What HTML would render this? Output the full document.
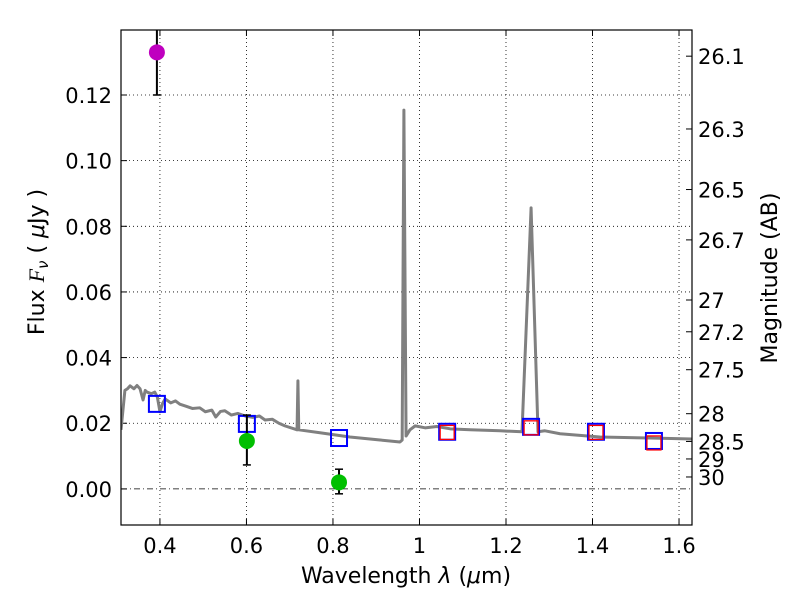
<!DOCTYPE html>
<html><head><meta charset="utf-8"><style>
body{margin:0;background:#fff}
svg text{font-family:"DejaVu Sans","Liberation Sans",sans-serif;fill:#000}
</style></head><body>
<svg id="chart" width="800" height="600" xmlns="http://www.w3.org/2000/svg"></svg>
<script>
const xTicks=[0.4,0.6,0.8,1.0,1.2,1.4,1.6];
const xTickLabels=["0.4","0.6","0.8","1","1.2","1.4","1.6"];
const yTicks=[0,0.02,0.04,0.06,0.08,0.10,0.12];
const yTickLabels=["0.00","0.02","0.04","0.06","0.08","0.10","0.12"];
const magTicks=[26.1,26.3,26.5,26.7,27,27.2,27.5,28,28.5,29,30];
const magLabels=["26.1","26.3","26.5","26.7","27","27.2","27.5","28","28.5","29","30"];
const specWave=[0.310,0.319,0.325,0.331,0.340,0.347,0.354,0.361,0.366,0.370,0.380,0.388,0.394,0.400,0.406,0.412,0.425,0.436,0.446,0.460,0.475,0.492,0.505,0.520,0.529,0.540,0.550,0.565,0.580,0.597,0.615,0.630,0.643,0.660,0.675,0.689,0.717,0.719,0.721,0.770,0.839,0.909,0.955,0.960,0.964,0.969,0.978,0.990,1.013,1.040,1.071,1.117,1.186,1.237,1.258,1.274,1.290,1.325,1.417,1.533,1.630];
const specFlux=[0.018,0.030,0.0305,0.0314,0.0305,0.0315,0.0305,0.0271,0.0300,0.0295,0.0290,0.0295,0.0280,0.0235,0.0260,0.0274,0.0262,0.0268,0.0258,0.0252,0.0245,0.0247,0.0235,0.0240,0.0219,0.0236,0.0238,0.0225,0.0230,0.0222,0.0218,0.0222,0.0210,0.0212,0.0200,0.0192,0.0180,0.0329,0.0180,0.0171,0.0158,0.0149,0.0143,0.0149,0.1154,0.0161,0.0180,0.0192,0.0186,0.0190,0.0183,0.0180,0.0177,0.0174,0.0856,0.0174,0.0177,0.0168,0.0158,0.0155,0.0152];
const modelWave=[0.393,0.601,0.814,1.064,1.258,1.408,1.542];
const modelFlux=[0.0259,0.0198,0.0155,0.0174,0.0189,0.0174,0.0146];
const redWave=[1.064,1.258,1.408,1.542];
const redFlux=[0.0172,0.0186,0.0172,0.0140];
const obsWave=[0.393,0.601,0.814];
const obsFlux=[0.133,0.0146,0.002];
const obsErrLo=[0.120,0.0073,-0.0015];
const obsErrHi=[0.146,0.0225,0.006];
const obsColor=["#bf00bf","#00bf00","#00bf00"];

const L=121,R=692,T=30,B=525;
const xmin=0.31,xmax=1.63,ymin=-0.011,ymax=0.1398;
const X=v=>L+(v-xmin)/(xmax-xmin)*(R-L);
const Y=v=>B-(v-ymin)/(ymax-ymin)*(B-T);
const svg=document.getElementById('chart');
const NS="http://www.w3.org/2000/svg";
function mk(tag,attrs,parent){const e=document.createElementNS(NS,tag);for(const k in attrs)e.setAttribute(k,attrs[k]);(parent||svg).appendChild(e);return e;}
const clip=mk('clipPath',{id:'pc'});mk('rect',{x:L,y:T,width:R-L,height:B-T},clip);
xTicks.forEach((v,i)=>{
  const g=mk('line',{x1:X(v),x2:X(v),y1:T,y2:B,stroke:'#000','stroke-width':0.8,'stroke-dasharray':'1,3'});
  
  
  mk('line',{x1:X(v),x2:X(v),y1:B,y2:B-6,stroke:'#000'});mk('line',{x1:X(v),x2:X(v),y1:T,y2:T+6,stroke:'#000'});
  const t=mk('text',{x:X(v),y:B+28,'text-anchor':'middle','font-size':21});t.textContent=xTickLabels[i];
  
  
});
yTicks.forEach((v,i)=>{
  const g=mk('line',{x1:L,x2:R,y1:Y(v),y2:Y(v),stroke:'#000','stroke-width':0.8,'stroke-dasharray':v===0?'6,3,1,3':'1,3'});
  
  
  mk('line',{x1:L,x2:L+6,y1:Y(v),y2:Y(v),stroke:'#000'});
  const t=mk('text',{x:L-9,y:Y(v)+8,'text-anchor':'end','font-size':21});t.textContent=yTickLabels[i];
  
  
});
magTicks.forEach((m,i)=>{
  const f=Math.pow(10,-(m-23.9)/2.5);const y=Y(f);
  mk('line',{x1:R,x2:R-6,y1:y,y2:y,stroke:'#000'});
  const t=mk('text',{x:R+6,y:y+8,'font-size':21});t.textContent=magLabels[i];
  
  
});
const g=mk('g',{'clip-path':'url(#pc)'});
const sp=mk('polyline',{points:specWave.map((w,i)=>X(w)+','+Y(specFlux[i])).join(' '),fill:'none',stroke:'#808080','stroke-width':3,'stroke-linejoin':'round'},g);


modelWave.forEach((w,i)=>{
  const r=mk('rect',{x:X(w)-8,y:Y(modelFlux[i])-8,width:16,height:16,fill:'none',stroke:'#0000ff','stroke-width':2},g);
  
  
});
redWave.forEach((w,i)=>{
  const r=mk('rect',{x:X(w)-7,y:Y(redFlux[i])-7,width:14,height:14,fill:'none',stroke:'#ff0000','stroke-width':1.3},g);
  
  
});
obsWave.forEach((w,i)=>{
  const x=X(w);
  const e=mk('line',{x1:x,x2:x,y1:Y(obsErrLo[i]),y2:Y(obsErrHi[i]),stroke:'#000','stroke-width':2},g);
  
  
  mk('line',{x1:x-4,x2:x+4,y1:Y(obsErrLo[i]),y2:Y(obsErrLo[i]),stroke:'#000','stroke-width':1.5},g);
  mk('line',{x1:x-4,x2:x+4,y1:Y(obsErrHi[i]),y2:Y(obsErrHi[i]),stroke:'#000','stroke-width':1.5},g);
  const c=mk('circle',{cx:x,cy:Y(obsFlux[i]),r:8,fill:obsColor[i]},g);
  
  
});
const fr=mk('rect',{x:L,y:T,width:R-L,height:B-T,fill:'none',stroke:'#000','stroke-width':1.2});


const xl=mk('text',{x:406,y:583,'text-anchor':'middle','font-size':22});xl.innerHTML='Wavelength  <tspan font-style="italic">λ</tspan> (<tspan font-style="italic">μ</tspan>m)';


const yl=mk('text',{x:44,y:262,'text-anchor':'middle','font-size':22,transform:'rotate(-90 44 262)'});yl.innerHTML='Flux  <tspan font-style="italic" font-family="Liberation Serif">F</tspan><tspan font-style="italic" font-size="15" dy="4">ν</tspan><tspan dy="-4">  ( </tspan><tspan font-style="italic">μ</tspan>Jy )';


const ml=mk('text',{x:777,y:278,'text-anchor':'middle','font-size':22,transform:'rotate(-90 777 278)'});ml.textContent='Magnitude (AB)';


</script>
</body></html>
